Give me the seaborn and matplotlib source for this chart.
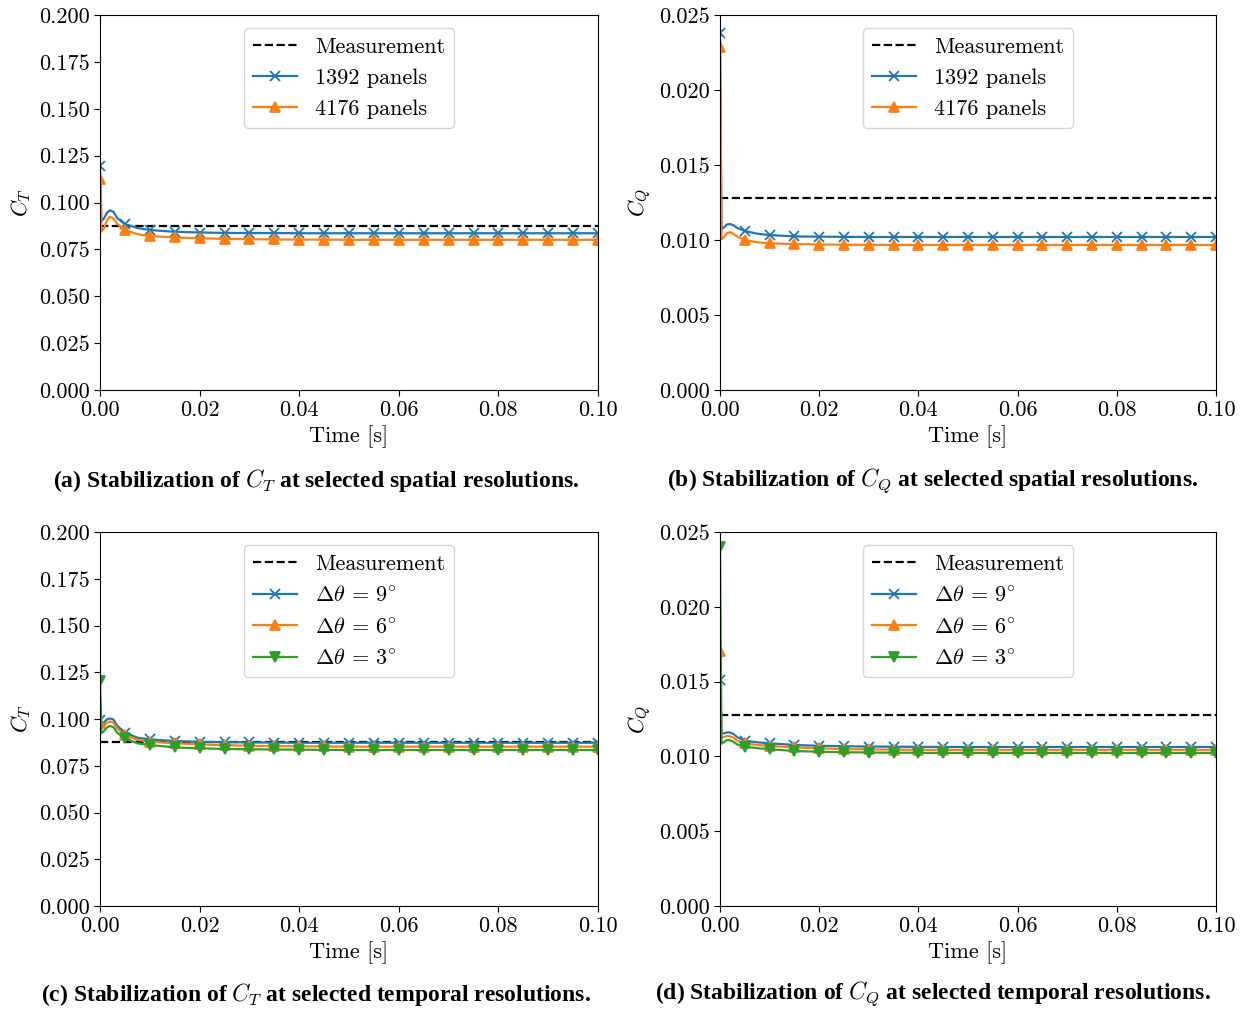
import matplotlib
matplotlib.use("Agg")
import matplotlib.pyplot as plt
import seaborn as sns

plt.rcParams['font.family'] = 'serif'
plt.rcParams['font.serif'] = ['cmr10', 'DejaVu Serif']
plt.rcParams['mathtext.fontset'] = 'cm'
plt.rcParams['axes.formatter.use_mathtext'] = True
plt.rcParams['axes.unicode_minus'] = False

# ---------------- data ----------------
time_s = [0.0, 0.0003, 0.0008, 0.0014, 0.002, 0.0027, 0.0035, 0.005, 0.0075, 0.01, 0.015,
          0.02, 0.025, 0.03, 0.035, 0.04, 0.045, 0.05, 0.055, 0.06, 0.065, 0.07, 0.075,
          0.08, 0.085, 0.09, 0.095, 0.1]

ct_measured = 0.0875
cq_measured = 0.0128

# (a) CT, spatial resolution
ct_1392 = [0.1195, 0.0900, 0.0915, 0.0945, 0.0958, 0.0950, 0.0915, 0.0885, 0.0864, 0.0853, 0.0844,
           0.0840, 0.0838, 0.0837, 0.0837, 0.0836, 0.0836, 0.0836, 0.0836, 0.0836, 0.0836, 0.0836,
           0.0836, 0.0836, 0.0836, 0.0836, 0.0836, 0.0836]
ct_4176 = [0.1125, 0.0845, 0.0862, 0.0905, 0.0924, 0.0915, 0.0885, 0.0853, 0.0831, 0.0821, 0.0814,
           0.0809, 0.0806, 0.0804, 0.0803, 0.0802, 0.0802, 0.0801, 0.0801, 0.0801, 0.0801, 0.0801,
           0.0801, 0.0801, 0.0801, 0.0801, 0.0801, 0.0801]

# (b) CQ, spatial resolution
cq_1392 = [0.0238, 0.01070, 0.01085, 0.01103, 0.01107, 0.01098, 0.01080, 0.01060, 0.01042, 0.01033, 0.01024,
           0.01022, 0.01021, 0.01020, 0.01020, 0.01020, 0.01020, 0.01020, 0.01020, 0.01020, 0.01020, 0.01020,
           0.01020, 0.01020, 0.01020, 0.01020, 0.01020, 0.01020]
cq_4176 = [0.0229, 0.01005, 0.01020, 0.01045, 0.01051, 0.01042, 0.01022, 0.01000, 0.00985, 0.00978, 0.00973,
           0.00970, 0.00969, 0.00968, 0.00967, 0.00967, 0.00967, 0.00967, 0.00967, 0.00967, 0.00967, 0.00967,
           0.00967, 0.00967, 0.00967, 0.00967, 0.00967, 0.00967]

# (c) CT, temporal resolution
ct_dt9 = [0.0995, 0.0975, 0.0982, 0.0998, 0.1003, 0.0997, 0.0962, 0.0927, 0.0900, 0.0891, 0.0882,
          0.0878, 0.0876, 0.0875, 0.0874, 0.0873, 0.0873, 0.0873, 0.0873, 0.0873, 0.0873, 0.0873,
          0.0873, 0.0873, 0.0873, 0.0873, 0.0873, 0.0873]
ct_dt6 = [0.0980, 0.0955, 0.0962, 0.0980, 0.0986, 0.0980, 0.0948, 0.0914, 0.0888, 0.0879, 0.0870,
          0.0864, 0.0860, 0.0857, 0.0855, 0.0854, 0.0853, 0.0852, 0.0852, 0.0852, 0.0852, 0.0852,
          0.0852, 0.0852, 0.0852, 0.0852, 0.0852, 0.0852]
ct_dt3 = [0.1205, 0.0925, 0.0935, 0.0955, 0.0963, 0.0956, 0.0925, 0.0896, 0.0870, 0.0861, 0.0848,
          0.0843, 0.0840, 0.0838, 0.0837, 0.0836, 0.0835, 0.0834, 0.0834, 0.0834, 0.0834, 0.0834,
          0.0834, 0.0834, 0.0834, 0.0834, 0.0834, 0.0834]

# (d) CQ, temporal resolution
cq_dt9 = [0.0151, 0.01150, 0.01155, 0.01160, 0.01160, 0.01150, 0.01128, 0.01105, 0.01094, 0.01088, 0.01076,
          0.01071, 0.01068, 0.01066, 0.01065, 0.01064, 0.01063, 0.01063, 0.01063, 0.01063, 0.01063, 0.01063,
          0.01063, 0.01063, 0.01063, 0.01063, 0.01063, 0.01063]
cq_dt6 = [0.01705, 0.01125, 0.01130, 0.01136, 0.01135, 0.01125, 0.01105, 0.01088, 0.01076, 0.01070, 0.01060,
          0.01053, 0.01049, 0.01047, 0.01045, 0.01044, 0.01043, 0.01043, 0.01043, 0.01043, 0.01043, 0.01043,
          0.01043, 0.01043, 0.01043, 0.01043, 0.01043, 0.01043]
cq_dt3 = [0.0240, 0.01085, 0.01095, 0.01110, 0.01108, 0.01098, 0.01080, 0.01065, 0.01055, 0.01048, 0.01036,
          0.01031, 0.01028, 0.01026, 0.01025, 0.01024, 0.01023, 0.01023, 0.01023, 0.01023, 0.01023, 0.01023,
          0.01023, 0.01023, 0.01023, 0.01023, 0.01023, 0.01023]

spatial_labels = ["1392 panels", "4176 panels"]
temporal_labels = [r"$\Delta\theta\,=\,9^{\circ}$", r"$\Delta\theta\,=\,6^{\circ}$", r"$\Delta\theta\,=\,3^{\circ}$"]
captions = [
    r"(a) Stabilization of $C_T$ at selected spatial resolutions.",
    r"(b) Stabilization of $C_Q$ at selected spatial resolutions.",
    r"(c) Stabilization of $C_T$ at selected temporal resolutions.",
    r"(d) Stabilization of $C_Q$ at selected temporal resolutions.",
]

# ---------------- styling ----------------
colors = ['#1f77b4', '#ff7f0e', '#2ca02c']
markers = ['x', '^', 'v']
msizes = [7, 7.5, 7.5]
mark_idx = [i for i, t in enumerate(time_s) if abs(t / 0.005 - round(t / 0.005)) < 1e-6]

W, H = 1244, 1009
fig = plt.figure(figsize=(W / 100, H / 100), dpi=100)

def px_axes(l, t, r, b):
    return fig.add_axes([l / W, 1 - b / H, (r - l) / W, (b - t) / H])

axes = [px_axes(100, 15, 598, 390), px_axes(720, 15, 1216, 390),
        px_axes(100, 532, 598, 906), px_axes(720, 532, 1216, 906)]

panels = [
    (ct_measured, [ct_1392, ct_4176], spatial_labels, 0.2, r"$C_T$", 0.025),
    (cq_measured, [cq_1392, cq_4176], spatial_labels, 0.025, r"$C_Q$", 0.005),
    (ct_measured, [ct_dt9, ct_dt6, ct_dt3], temporal_labels, 0.2, r"$C_T$", 0.025),
    (cq_measured, [cq_dt9, cq_dt6, cq_dt3], temporal_labels, 0.025, r"$C_Q$", 0.005),
]

FS = 16
for ax, (meas, series, labels, ymax, ylab, ystep) in zip(axes, panels):
    sns.lineplot(x=[0.0, 0.1], y=[meas, meas], ax=ax, color='black', linestyle='--',
                 linewidth=1.6, label="Measurement")
    for k, (vals, lab) in enumerate(zip(series, labels)):
        sns.lineplot(x=time_s, y=vals, ax=ax, color=colors[k], marker=markers[k],
                     markevery=mark_idx, markersize=msizes[k], markeredgewidth=1.3,
                     markeredgecolor=colors[k], linewidth=1.6, label=lab)
    ax.set_xlim(0, 0.1)
    ax.set_ylim(0, ymax)
    ax.set_xticks([0, 0.02, 0.04, 0.06, 0.08, 0.1])
    ax.set_xticklabels(["0.00", "0.02", "0.04", "0.06", "0.08", "0.10"])
    n = int(round(ymax / ystep))
    yt = [ystep * i for i in range(n + 1)]
    ax.set_yticks(yt)
    ax.set_yticklabels([f"{v:.3f}" for v in yt])
    ax.tick_params(labelsize=FS, length=4)
    ax.set_xlabel("Time [s]", fontsize=FS)
    ax.set_ylabel(ylab, fontsize=FS)
    ax.legend(loc='upper center', fontsize=FS, bbox_to_anchor=(0.5, 1.0),
              borderaxespad=0.6, handlelength=2.0, borderpad=0.4, labelspacing=0.52)

cap_pos = [(316, 481), (933, 481), (316, 994), (933, 994)]
for (cx, cy), txt in zip(cap_pos, captions):
    fig.text(cx / W, 1 - cy / H, txt, ha='center', va='center', fontsize=17,
             fontweight='bold', family='Liberation Serif')

fig.savefig("out.png", dpi=100)
